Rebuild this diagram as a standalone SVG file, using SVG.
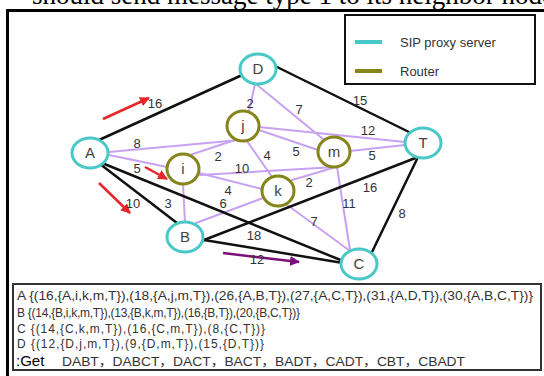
<svg xmlns="http://www.w3.org/2000/svg" width="544" height="376" viewBox="0 0 544 376">
  <defs>
    <style>
      .title { font-family: "Liberation Serif", serif; font-size: 27px; fill: #000; }
      .frame { fill: none; stroke: #000; stroke-width: 3; }
      .legend { fill: #fff; stroke: #111; stroke-width: 2; }
      .ltxt { font-family: "Liberation Sans", Arial, sans-serif; font-size: 13px; fill: #333; }
      .sip { fill: #fff; stroke: #48c8c6; stroke-width: 3; }
      .rtr { fill: #fff; stroke: #85851c; stroke-width: 3; }
      .nlbl { font-family: "Liberation Sans", Arial, sans-serif; font-size: 15px; fill: #444; text-anchor: middle; }
      .blk { stroke: #111; stroke-width: 2.5; fill: none; stroke-linecap: round; }
      .pur { stroke: #c8a2f2; stroke-width: 2; fill: none; stroke-linecap: round; }
      .w { font-family: "Liberation Sans", Arial, sans-serif; font-size: 13px; fill: #333; text-anchor: middle; }
      .red { stroke: #e8262a; stroke-width: 2.5; fill: none; }
      .vio { stroke: #7b107b; stroke-width: 2.5; fill: none; }
      .box { fill: #fff; stroke: #333; stroke-width: 2; }
      .btxt { font-family: "Liberation Sans", Arial, "Noto Sans CJK SC", sans-serif; font-size: 12px; fill: #333; }
      .get { font-family: "Liberation Sans", Arial, sans-serif; font-size: 15px; fill: #000; }
    </style>
    <marker id="ahRed" viewBox="0 0 10 10" refX="9" refY="5" markerWidth="4" markerHeight="4" orient="auto">
      <path d="M0,0 L10,5 L0,10 z" fill="#e8262a"/>
    </marker>
    <marker id="ahVio" viewBox="0 0 10 10" refX="9" refY="5" markerWidth="4" markerHeight="4" orient="auto">
      <path d="M0,0 L10,5 L0,10 z" fill="#7b107b"/>
    </marker>
  </defs>

  <rect width="544" height="376" fill="#fff"/>

  <!-- heading, cut at the top edge -->
  <text class="title" x="32" y="4">should send message type 1 to its neighbor node</text>

  <!-- outer frame -->
  <path class="frame" d="M7.5,380 V10.5 H550"/>

  <!-- legend -->
  <g id="legend">
    <rect class="legend" x="345" y="15" width="190" height="69"/>
    <line x1="355" y1="42" x2="382" y2="42" stroke="#48c8c6" stroke-width="4"/>
    <text class="ltxt" x="400" y="47">SIP proxy server</text>
    <line x1="355" y1="71" x2="382" y2="71" stroke="#85851c" stroke-width="4"/>
    <text class="ltxt" x="400" y="76">Router</text>
  </g>

  <!-- links -->
  <g id="connectors">
    <!-- router mesh -->
    <line class="pur" x1="109" y1="152" x2="240" y2="140"/>
    <line class="pur" x1="109" y1="155" x2="167" y2="167"/>
    <line class="pur" x1="190" y1="155" x2="238" y2="139"/>
    <line class="pur" x1="255" y1="84" x2="249" y2="111"/>
    <line class="pur" x1="256" y1="84" x2="323" y2="139"/>
    <line class="pur" x1="259" y1="127" x2="405" y2="142"/>
    <line class="pur" x1="259" y1="130" x2="318" y2="150"/>
    <line class="pur" x1="247" y1="141" x2="272" y2="177"/>
    <line class="pur" x1="350" y1="151" x2="405" y2="145"/>
    <line class="pur" x1="200" y1="175" x2="336" y2="167"/>
    <line class="pur" x1="199" y1="173" x2="262" y2="189"/>
    <line class="pur" x1="292" y1="180" x2="336" y2="167"/>
    <line class="pur" x1="183" y1="184" x2="185" y2="222"/>
    <line class="pur" x1="196" y1="223" x2="263" y2="198"/>
    <line class="pur" x1="286" y1="204" x2="350" y2="251"/>
    <line class="pur" x1="337" y1="167" x2="350" y2="250"/>
    <!-- direct server links -->
    <line class="blk" x1="99" y1="140" x2="240" y2="76"/>
    <line class="blk" x1="277" y1="67" x2="409" y2="132"/>
    <line class="blk" x1="100" y1="164" x2="177" y2="223"/>
    <line class="blk" x1="102" y1="163" x2="343" y2="261"/>
    <line class="blk" x1="204" y1="240" x2="418" y2="157"/>
    <line class="blk" x1="204" y1="240" x2="343" y2="263"/>
    <line class="blk" x1="372" y1="252" x2="418" y2="157"/>
    <!-- message direction arrows -->
    <line class="red" x1="103" y1="119" x2="149" y2="98" marker-end="url(#ahRed)"/>
    <line class="red" x1="145" y1="167" x2="167" y2="179" marker-end="url(#ahRed)"/>
    <line class="red" x1="99" y1="183" x2="130" y2="213" marker-end="url(#ahRed)"/>
    <line class="vio" x1="223" y1="253" x2="299" y2="262" marker-end="url(#ahVio)"/>
  </g>

  <!-- link weights -->
  <g id="weights">
    <text class="w" x="155" y="108">16</text>
    <text class="w" x="137" y="148">8</text>
    <text class="w" x="137" y="173">5</text>
    <text class="w" x="250" y="108">2</text>
    <text class="w" x="299" y="114">7</text>
    <text class="w" x="360" y="105">15</text>
    <text class="w" x="368" y="135">12</text>
    <text class="w" x="296" y="156">5</text>
    <text class="w" x="267" y="160">4</text>
    <text class="w" x="372" y="160">5</text>
    <text class="w" x="218" y="161">2</text>
    <text class="w" x="242" y="173">10</text>
    <text class="w" x="228" y="195">4</text>
    <text class="w" x="168" y="208">3</text>
    <text class="w" x="223" y="208">6</text>
    <text class="w" x="133" y="208">10</text>
    <text class="w" x="309" y="187">2</text>
    <text class="w" x="370" y="192">16</text>
    <text class="w" x="349" y="208">11</text>
    <text class="w" x="402" y="218">8</text>
    <text class="w" x="314" y="226">7</text>
    <text class="w" x="254" y="240">18</text>
    <text class="w" x="257" y="264">12</text>
  </g>

  <!-- SIP proxy servers -->
  <g id="node-A"><ellipse class="sip" cx="90" cy="153" rx="18" ry="15"/><text class="nlbl" x="90" y="158">A</text></g>
  <g id="node-D"><ellipse class="sip" cx="258" cy="69" rx="18" ry="15"/><text class="nlbl" x="258" y="74">D</text></g>
  <g id="node-T"><ellipse class="sip" cx="423" cy="143" rx="18" ry="15"/><text class="nlbl" x="423" y="148">T</text></g>
  <g id="node-B"><ellipse class="sip" cx="185" cy="237" rx="18" ry="15"/><text class="nlbl" x="185" y="242">B</text></g>
  <g id="node-C"><ellipse class="sip" cx="359" cy="264" rx="18" ry="15"/><text class="nlbl" x="359" y="269">C</text></g>

  <!-- routers -->
  <g id="node-j"><ellipse class="rtr" cx="243" cy="126" rx="16" ry="15"/><text class="nlbl" x="243" y="131">j</text></g>
  <g id="node-i"><ellipse class="rtr" cx="183" cy="169" rx="16" ry="15"/><text class="nlbl" x="183" y="174">i</text></g>
  <g id="node-m"><ellipse class="rtr" cx="334" cy="152" rx="16" ry="15"/><text class="nlbl" x="334" y="157">m</text></g>
  <g id="node-k"><ellipse class="rtr" cx="278" cy="191" rx="16" ry="15"/><text class="nlbl" x="278" y="196">k</text></g>

  <!-- path table -->
  <g id="table">
    <rect class="box" x="13" y="284" width="528" height="86"/>
    <text class="btxt" x="17" y="300" textLength="516" lengthAdjust="spacingAndGlyphs">A {(16,{A,i,k,m,T}),(18,{A,j,m,T}),(26,{A,B,T}),(27,{A,C,T}),(31,{A,D,T}),(30,{A,B,C,T})}</text>
    <text class="btxt" x="17" y="317" textLength="283" lengthAdjust="spacing">B {(14,{B,i,k,m,T}),(13,{B,k,m,T}),(16,{B,T}),(20,{B,C,T})}</text>
    <text class="btxt" x="17" y="333" textLength="248" lengthAdjust="spacing">C {(14,{C,k,m,T}),(16,{C,m,T}),(8,{C,T})}</text>
    <text class="btxt" x="17" y="348" textLength="247" lengthAdjust="spacing">D {(12,{D,j,m,T}),(9,{D,m,T}),(15,{D,T})}</text>
    <text class="get" x="16" y="366">:Get</text>
    <text class="btxt" x="62" y="366" textLength="403" lengthAdjust="spacingAndGlyphs">DABT，DABCT，DACT，BACT，BADT，CADT，CBT，CBADT</text>
  </g>
</svg>
